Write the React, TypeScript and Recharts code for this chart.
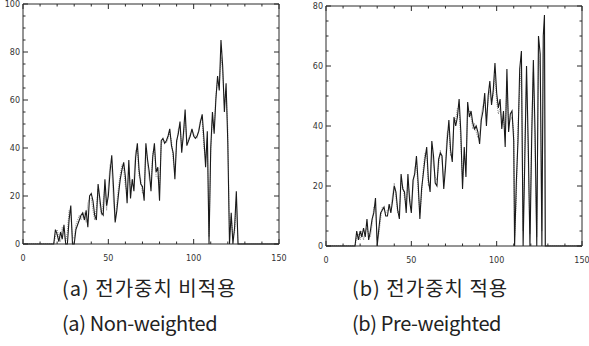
import React from "react";
import { LineChart, Line, XAxis, YAxis } from "recharts";

// x positions (frame index) for each panel
const leftX = [
  0, 18, 19, 20, 21, 22, 23, 24, 25, 26, 27, 28, 29, 30, 31, 32, 33, 34, 35, 36, 37,
  38, 39, 40, 41, 42, 43, 44, 45, 46, 47, 48, 49, 50, 51, 52, 53, 54, 55, 56, 57,
  58, 59, 60, 61, 62, 63, 64, 65, 66, 67, 68, 69, 70, 71, 72, 73, 74, 75, 76, 77,
  78, 79, 80, 81, 82, 83, 84, 85, 86, 87, 88, 89, 90, 91, 92, 93, 94, 95, 96, 97,
  98, 99, 100, 101, 102, 103, 104, 105, 106, 107, 108, 109, 110, 111, 112, 113, 114, 115, 116, 117,
  118, 119, 120, 121, 122, 123, 124, 125, 126, 150,
];
const leftDark = [
  0, 0, 6, 4, 1, 5, 2, 8, 0, 0, 10,
  16, 0, 0, 6, 8, 10, 12, 13, 10, 14,
  7, 20, 21, 18, 12, 10, 25, 19, 13, 12,
  27, 16, 20, 30, 37, 24, 9, 14, 21, 27,
  31, 34, 28, 17, 35, 19, 27, 22, 36, 42,
  31, 25, 24, 18, 42, 35, 30, 22, 36, 42,
  30, 32, 18, 43, 44, 42, 43, 45, 48, 41,
  38, 27, 43, 46, 51, 38, 46, 56, 41, 43,
  45, 48, 45, 44, 45, 47, 51, 54, 44, 32,
  47, 0, 40, 55, 46, 60, 70, 64, 85, 74,
  55, 67, 42, 0, 13, 0, 7, 22, 0, 0,
];
const leftLight = [
  0, 0, 3, 6, 3, 1, 7, 4, 1, 5, 14,
  12, 3, 2, 8, 10, 12, 10, 12, 13, 9,
  17, 19, 19, 14, 10, 15, 23, 16, 12, 18,
  24, 14, 24, 33, 32, 18, 10, 17, 24, 29,
  33, 31, 24, 22, 32, 23, 25, 27, 39, 40,
  28, 27, 21, 23, 40, 33, 27, 25, 38, 40,
  28, 28, 24, 42, 43, 43, 42, 44, 46, 43,
  35, 30, 41, 48, 49, 41, 44, 52, 43, 44,
  46, 47, 46, 45, 44, 48, 52, 52, 40, 36,
  44, 3, 38, 52, 48, 62, 68, 66, 78, 72,
  58, 64, 48, 4, 11, 3, 5, 18, 0, 0,
];

const rightX = [
  0, 17, 18, 19, 20, 21, 22, 23, 24, 25, 26,
  27, 28, 29, 30, 31, 32, 33, 34, 35, 36,
  37, 38, 39, 40, 41, 42, 43, 44, 45, 46,
  47, 48, 49, 50, 51, 52, 53, 54, 55, 56,
  57, 58, 59, 60, 61, 62, 63, 64, 65, 66,
  67, 68, 69, 70, 71, 72, 73, 74, 75, 76,
  77, 78, 79, 80, 81, 82, 83, 84, 85, 86,
  87, 88, 89, 90, 91, 92, 93, 94, 95, 96,
  97, 98, 99, 100, 101, 102, 103, 104, 105, 106,
  107, 108, 109, 110,
  110.5, 111.5, 112.5, 113.5, 114.5, 115.5, 116.5, 117.5, 118.5, 119.5,
  120.5, 121.5, 122.5, 123.5, 124.5, 125.5, 126.5, 127.3, 128, 128.5, 150,
];
const rightDark = [
  0, 0, 5, 2, 5, 3, 6, 3, 9, 2, 5,
  9, 11, 16, 0, 6, 11, 12, 13, 10, 10,
  14, 11, 15, 20, 18, 12, 9, 24, 19, 18,
  11, 24, 15, 11, 22, 24, 30, 21, 9, 19,
  24, 29, 33, 22, 18, 35, 30, 21, 20, 29,
  31, 30, 19, 26, 35, 42, 32, 28, 43, 40,
  43, 49, 38, 19, 33, 23, 48, 43, 45, 41,
  39, 40, 38, 34, 42, 45, 51, 40, 50, 55,
  47, 52, 61, 51, 46, 49, 39, 45, 33, 59,
  38, 44, 45, 35,
  0, 21, 35, 59, 65, 0, 29, 60, 34, 0,
  35, 62, 38, 0, 70, 64, 0, 70, 77, 0, 0,
];
const rightLight = [
  0, 0, 3, 4, 2, 5, 2, 5, 6, 4, 3,
  7, 13, 13, 2, 4, 9, 13, 12, 11, 12,
  12, 13, 17, 21, 16, 11, 12, 21, 20, 16,
  14, 21, 17, 13, 19, 26, 28, 18, 11, 17,
  26, 31, 31, 20, 21, 32, 27, 23, 22, 27,
  32, 28, 22, 28, 38, 39, 30, 31, 41, 42,
  46, 46, 35, 22, 30, 27, 45, 45, 43, 39,
  41, 38, 36, 37, 44, 47, 48, 43, 48, 52,
  48, 50, 57, 48, 44, 46, 42, 42, 37, 55,
  40, 42, 43, 38,
  3, 15, 40, 52, 60, 5, 35, 55, 28, 4,
  40, 58, 30, 3, 66, 58, 5, 65, 70, 0, 0,
];

// ticks (minor + major) and labelled ticks
const xTicks = [0, 10, 20, 30, 40, 50, 60, 70, 80, 90, 100, 110, 120, 130, 140, 150];
const xLabels = [0, 50, 100, 150];
const leftYTicks = [0, 5, 10, 15, 20, 25, 30, 35, 40, 45, 50, 55, 60, 65, 70, 75, 80, 85, 90, 95, 100];
const leftYLabels = [0, 20, 40, 60, 80, 100];
const rightYTicks = [0, 5, 10, 15, 20, 25, 30, 35, 40, 45, 50, 55, 60, 65, 70, 75, 80];
const rightYLabels = [0, 20, 40, 60, 80];

const captionsKo = ["(a) 전가중치 비적용", "(b) 전가중치 적용"];
const captionsEn = ["(a) Non-weighted", "(b) Pre-weighted"];

const AX = "#2a2a2a";
const tickFont = { fontSize: 8, fontFamily: "DejaVu Sans", fill: "#333" };

const makeTick = (side: string, labels: number[]) => (props: any) => {
  const { x, y, payload } = props;
  const v = payload.value;
  const major = labels.includes(v);
  const len = major ? 5 : 2.5;
  if (side === "bottom")
    return (
      <g>
        <line x1={x} y1={y} x2={x} y2={y - len} stroke={AX} />
        {major && (
          <text x={x} y={y + 17} textAnchor="middle" {...tickFont}>
            {v}
          </text>
        )}
      </g>
    );
  if (side === "top")
    return <line x1={x} y1={y} x2={x} y2={y + len} stroke={AX} />;
  if (side === "left")
    return (
      <g>
        <line x1={x} y1={y} x2={x + len} y2={y} stroke={AX} />
        {major && (
          <text x={x - 3} y={y + 3} textAnchor="end" {...tickFont}>
            {v}
          </text>
        )}
      </g>
    );
  return <line x1={x} y1={y} x2={x - len} y2={y} stroke={AX} />;
};

type PanelProps = {
  xs: number[];
  dark: number[];
  light: number[];
  yMax: number;
  yTicks: number[];
  yLabels: number[];
  width: number;
  height: number;
  top: number;
  right: number;
  yAxisWidth: number;
};

const Panel = ({ xs, dark, light, yMax, yTicks, yLabels, width, height, top, right, yAxisWidth }: PanelProps) => {
  const data = xs.map((x, i) => ({ x, dark: dark[i], light: light[i] }));
  return (
    <LineChart width={width} height={height} data={data} margin={{ top, right, left: 0, bottom: 0 }}>
      <XAxis
        dataKey="x"
        type="number"
        domain={[0, 150]}
        ticks={xTicks}
        interval={0}
        height={20}
        tickSize={0}
        tickMargin={0}
        stroke={AX}
        tick={makeTick("bottom", xLabels)}
      />
      <XAxis
        xAxisId="top"
        dataKey="x"
        orientation="top"
        type="number"
        domain={[0, 150]}
        allowDataOverflow
        ticks={xTicks}
        interval={0}
        height={1}
        tickSize={0}
        tickMargin={0}
        stroke={AX}
        tick={makeTick("top", xLabels)}
      />
      <YAxis
        type="number"
        domain={[0, yMax]}
        ticks={yTicks}
        interval={0}
        width={yAxisWidth}
        tickSize={0}
        tickMargin={0}
        stroke={AX}
        tick={makeTick("left", yLabels)}
      />
      <YAxis
        yAxisId="right"
        orientation="right"
        type="number"
        domain={[0, yMax]}
        allowDataOverflow
        ticks={yTicks}
        interval={0}
        width={1}
        tickSize={0}
        tickMargin={0}
        stroke={AX}
        tick={makeTick("right", yLabels)}
      />
      <Line
        type="linear"
        dataKey="light"
        xAxisId="top"
        yAxisId="right"
        stroke="#8c8c8c"
        strokeWidth={1}
        strokeDasharray="1 1"
        dot={false}
        isAnimationActive={false}
      />
      <Line
        type="linear"
        dataKey="dark"
        stroke="#1a1a1a"
        strokeWidth={1.1}
        dot={false}
        isAnimationActive={false}
      />
    </LineChart>
  );
};

const captionStyle: React.CSSProperties = {
  position: "absolute",
  fontFamily: "'Noto Sans CJK KR', 'Noto Sans', sans-serif",
  fontSize: 20,
  lineHeight: "24px",
  color: "#222",
  whiteSpace: "nowrap",
};
const koStyle: React.CSSProperties = { ...captionStyle, letterSpacing: 1 };
const enStyle: React.CSSProperties = { ...captionStyle, letterSpacing: -0.4 };

export default function App() {
  return (
    <div style={{ position: "absolute", left: 0, top: 0, width: 589, height: 346, background: "#fff", overflow: "hidden" }}>
      <div style={{ position: "absolute", left: 0, top: 0 }}>
        <Panel
          xs={leftX}
          dark={leftDark}
          light={leftLight}
          yMax={100}
          yTicks={leftYTicks}
          yLabels={leftYLabels}
          width={289}
          height={264}
          top={3}
          right={9}
          yAxisWidth={23}
        />
      </div>
      <div style={{ position: "absolute", left: 290, top: 0 }}>
        <Panel
          xs={rightX}
          dark={rightDark}
          light={rightLight}
          yMax={80}
          yTicks={rightYTicks}
          yLabels={rightYLabels}
          width={299}
          height={266}
          top={5}
          right={6}
          yAxisWidth={36}
        />
      </div>
      <div style={{ ...koStyle, left: 62, top: 276 }}>{captionsKo[0]}</div>
      <div style={{ ...enStyle, left: 62, top: 311 }}>{captionsEn[0]}</div>
      <div style={{ ...koStyle, left: 352, top: 276 }}>{captionsKo[1]}</div>
      <div style={{ ...enStyle, left: 352, top: 311 }}>{captionsEn[1]}</div>
    </div>
  );
}
